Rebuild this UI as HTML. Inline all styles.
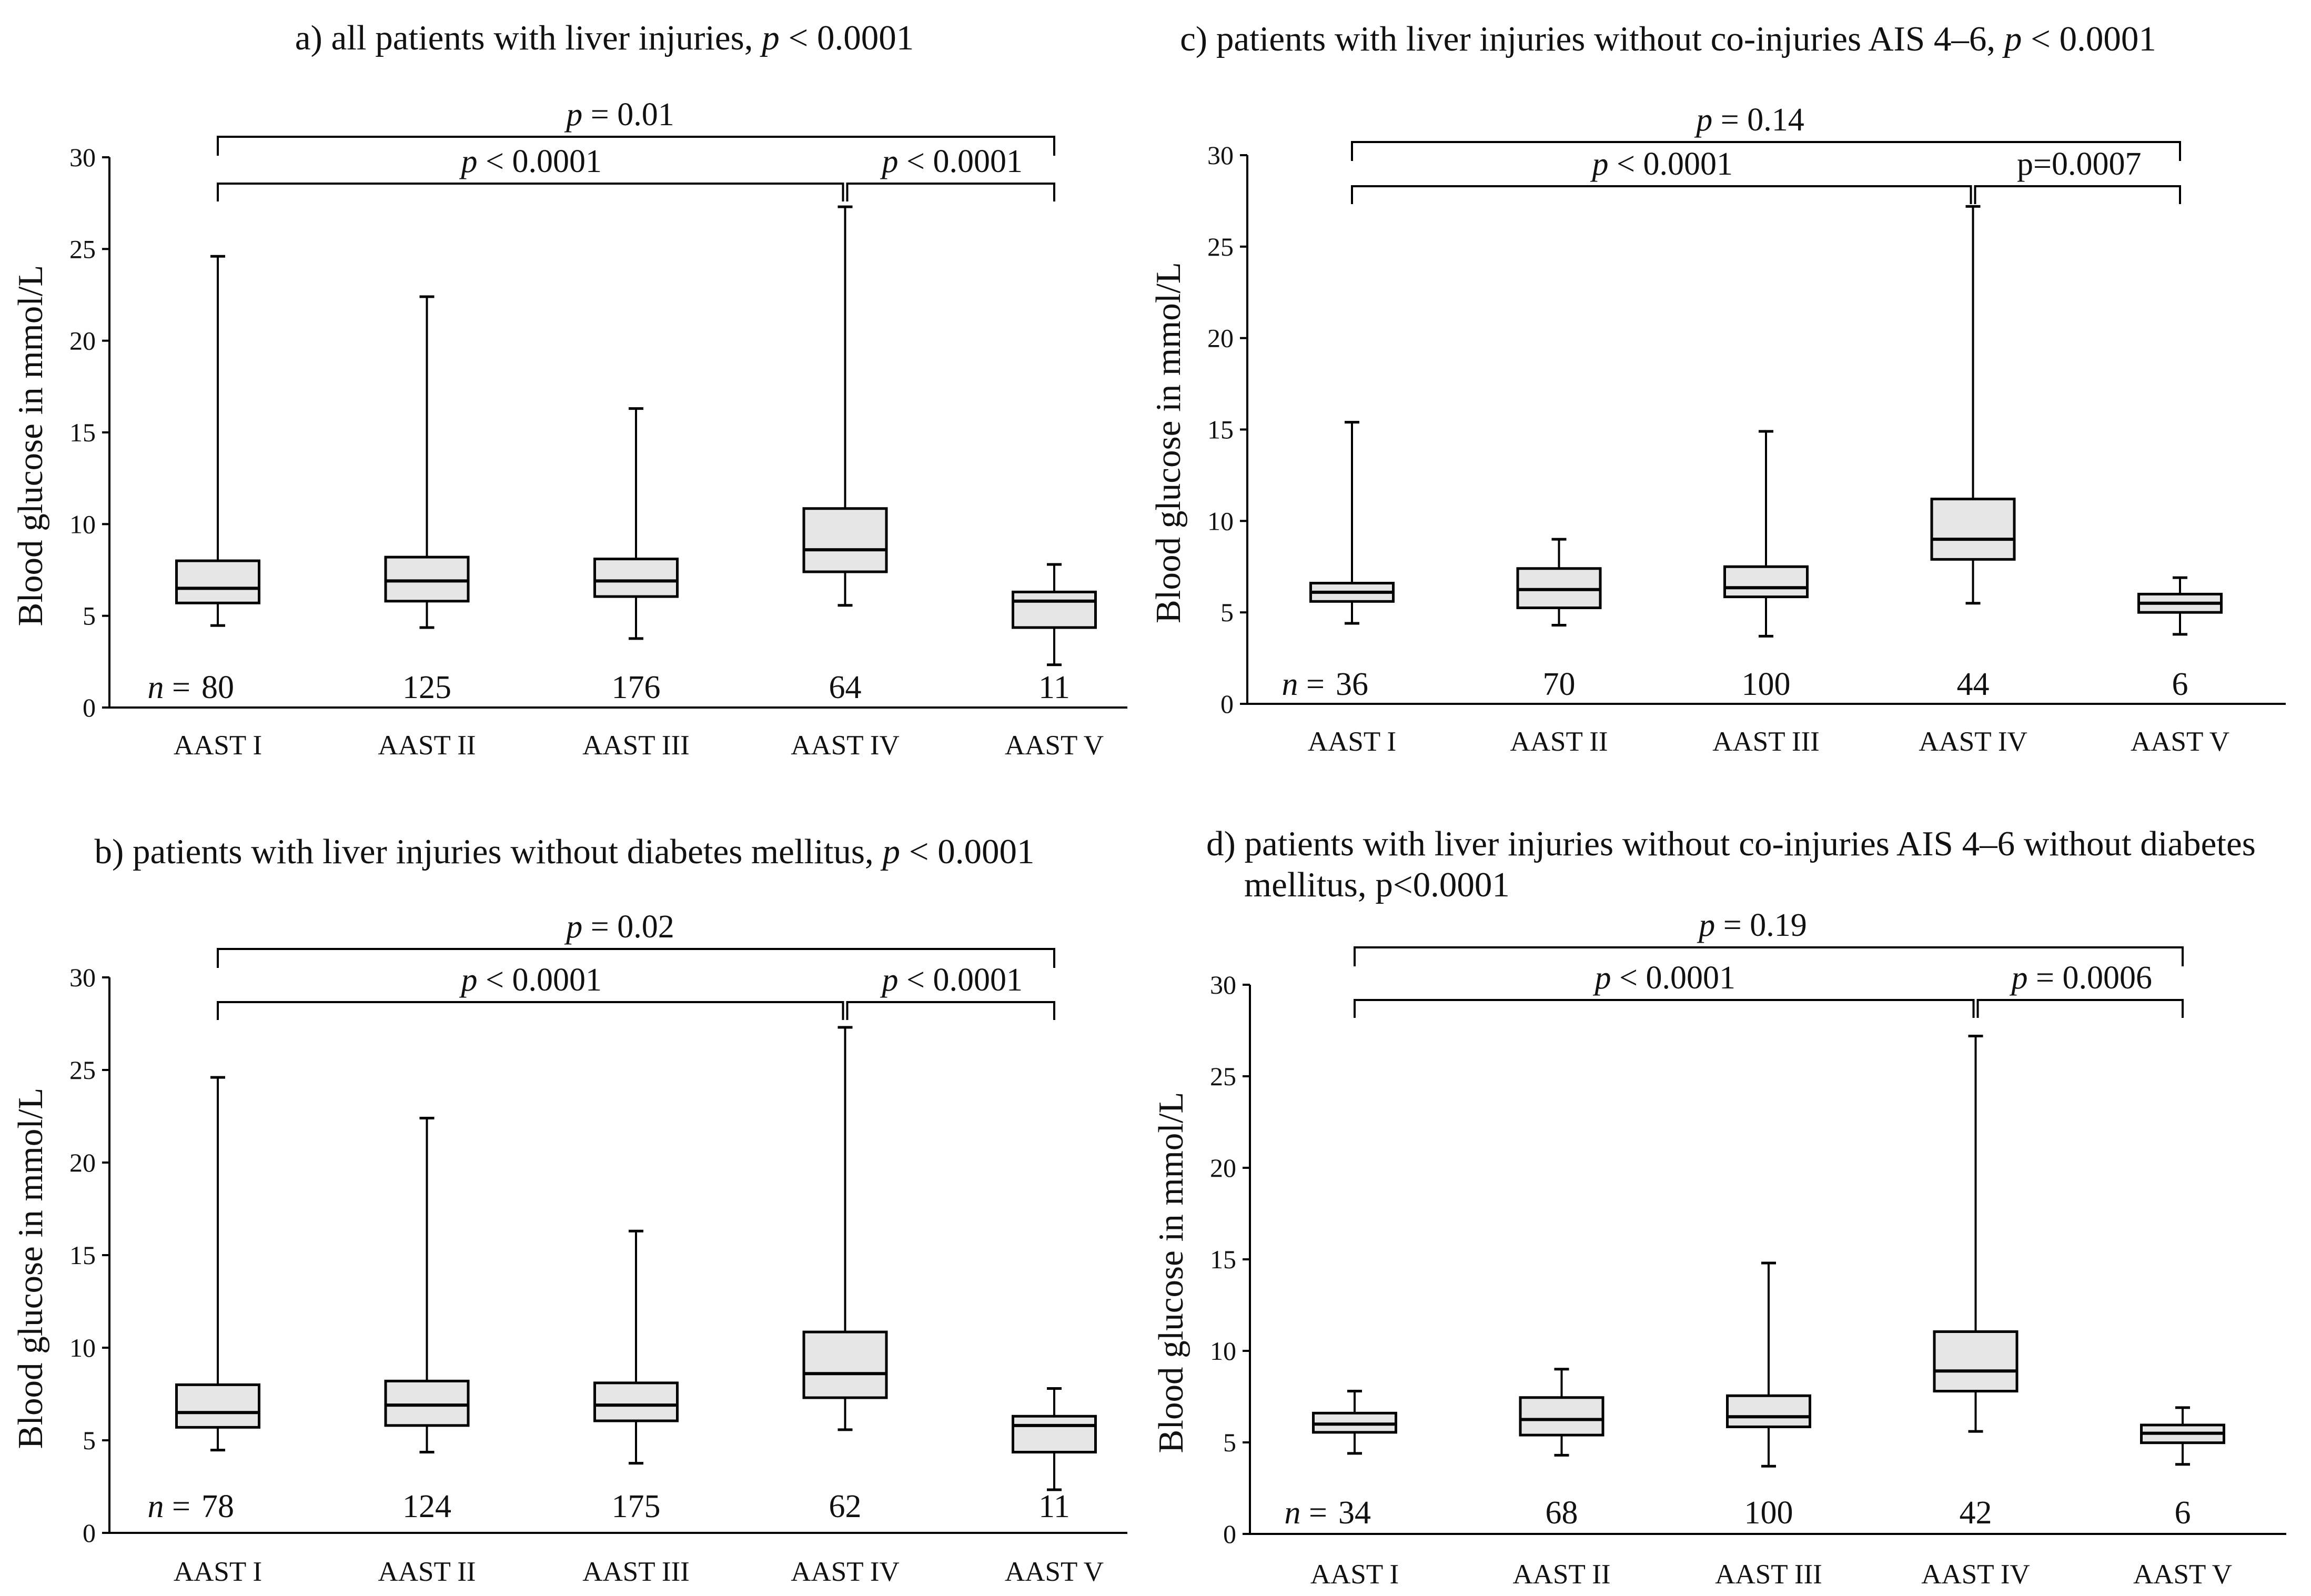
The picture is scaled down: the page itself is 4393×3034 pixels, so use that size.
<!DOCTYPE html>
<html><head><meta charset="utf-8"><style>
html,body{margin:0;padding:0;background:#fff}
svg{display:block}
text{font-family:"Liberation Serif",serif;fill:#111}
</style></head><body>
<svg id="chart" width="4393" height="3034" viewBox="0 0 4393 3034" xmlns="http://www.w3.org/2000/svg"></svg>
<script>
const categories = ["AAST I","AAST II","AAST III","AAST IV","AAST V"];
const yTicks = [0,5,10,15,20,25,30];
// panel a
const aMax = [24.6,22.4,16.3,27.3,7.8];
const aQ3  = [8.0,8.2,8.1,10.85,6.3];
const aMed = [6.5,6.9,6.9,8.6,5.8];
const aQ1  = [5.7,5.8,6.05,7.4,4.36];
const aMin = [4.47,4.36,3.76,5.57,2.33];
const aN   = ["80","125","176","64","11"];
// panel b
const bMax = [24.6,22.4,16.3,27.3,7.8];
const bQ3  = [8.0,8.2,8.1,10.85,6.3];
const bMed = [6.5,6.9,6.9,8.6,5.8];
const bQ1  = [5.7,5.8,6.05,7.3,4.36];
const bMin = [4.47,4.36,3.76,5.57,2.33];
const bN   = ["78","124","175","62","11"];
// panel c
const cMax = [15.4,9.0,14.9,27.2,6.9];
const cQ3  = [6.6,7.4,7.5,11.2,6.0];
const cMed = [6.1,6.25,6.35,9.0,5.5];
const cQ1  = [5.6,5.25,5.85,7.9,5.0];
const cMin = [4.4,4.3,3.7,5.5,3.8];
const cN   = ["36","70","100","44","6"];
// panel d
const dMax = [7.8,9.0,14.8,27.2,6.9];
const dQ3  = [6.6,7.45,7.55,11.05,5.95];
const dMed = [6.0,6.25,6.4,8.9,5.5];
const dQ1  = [5.55,5.4,5.85,7.8,4.98];
const dMin = [4.4,4.3,3.7,5.6,3.8];
const dN   = ["34","68","100","42","6"];

const NS="http://www.w3.org/2000/svg";
const svg=document.getElementById('chart');
function mk(tag,attrs,parent,txt){const e=document.createElementNS(NS,tag);for(const k in attrs)e.setAttribute(k,attrs[k]);if(txt!==undefined)e.textContent=txt;(parent||svg).appendChild(e);return e;}

function panel(cfg){
  const g=mk('g',{});
  
  
  const y=v=>cfg.y0+(cfg.y30-cfg.y0)*v/30;
  const x=i=>cfg.cx0+cfg.step*i;
  const ax=mk('line',{x1:cfg.ax,y1:cfg.y30,x2:cfg.ax,y2:cfg.y0,stroke:'#000','stroke-width':4},g);
  
  const bx=mk('line',{x1:cfg.ax,y1:cfg.y0,x2:cfg.axEnd,y2:cfg.y0,stroke:'#000','stroke-width':4},g);
  
  yTicks.forEach(t=>{
    mk('line',{x1:cfg.ax-14,y1:y(t),x2:cfg.ax,y2:y(t),stroke:'#000','stroke-width':4},g);
    const tl=mk('text',{x:cfg.ax-26,y:y(t)+17,'text-anchor':'end','font-size':50},g,String(t));
    
  });
  const yt=mk('text',{x:0,y:0,'text-anchor':'middle','font-size':67,transform:`translate(${cfg.ax-128},${(cfg.y0+cfg.y30)/2+25}) rotate(-90)`},g,'Blood glucose in mmol/L');
  
  const bw=157;
  categories.forEach((c,i)=>{
    const cx=x(i);
    const bg=mk('g',{},g);
    
    
    mk('line',{x1:cx,y1:y(cfg.max[i]),x2:cx,y2:y(cfg.q3[i]),stroke:'#000','stroke-width':4},bg);
    mk('line',{x1:cx,y1:y(cfg.q1[i]),x2:cx,y2:y(cfg.min[i]),stroke:'#000','stroke-width':4},bg);
    mk('line',{x1:cx-14,y1:y(cfg.max[i]),x2:cx+14,y2:y(cfg.max[i]),stroke:'#000','stroke-width':5},bg);
    mk('line',{x1:cx-14,y1:y(cfg.min[i]),x2:cx+14,y2:y(cfg.min[i]),stroke:'#000','stroke-width':5},bg);
    mk('rect',{x:cx-bw/2,y:y(cfg.q3[i]),width:bw,height:y(cfg.q1[i])-y(cfg.q3[i]),fill:'#e6e6e6',stroke:'#000','stroke-width':5},bg);
    mk('line',{x1:cx-bw/2,y1:y(cfg.med[i]),x2:cx+bw/2,y2:y(cfg.med[i]),stroke:'#000','stroke-width':6},bg);
    const cl=mk('text',{x:cx,y:cfg.catY+18,'text-anchor':'middle','font-size':53},g,c);
    
    const nl=mk('text',{x:cx,y:cfg.nY+21,'text-anchor':'middle','font-size':62},g,cfg.n[i]);
    
  });
  const ne=mk('text',{x:x(0)-52,y:cfg.nY+21,'text-anchor':'end','font-size':62},g);
  
  mk('tspan',{'font-style':'italic'},ne,'n');mk('tspan',{},ne,' =');
  function bracket(x1,x2,ly,ey,label,italic,tx,name){
    const bg=mk('g',{},g);
    
    mk('path',{d:`M${x1},${ey} L${x1},${ly} L${x2},${ly} L${x2},${ey}`,fill:'none',stroke:'#000','stroke-width':4},bg);
    const t=mk('text',{x:tx,y:ly-22,'text-anchor':'middle','font-size':62},bg);
    if(italic){mk('tspan',{'font-style':'italic'},t,'p');mk('tspan',{},t,label);}else t.textContent=label;
  }
  bracket(x(0),x(4),cfg.b1,cfg.b1+36,cfg.l1,true,(x(0)+x(4))/2-30,'bracket-outer');
  bracket(x(0),x(3)-4,cfg.b2,cfg.b2+34,cfg.l2,true,(x(0)+x(3))/2,'bracket-left');
  bracket(x(3)+4,x(4),cfg.b2,cfg.b2+34,cfg.l3,cfg.l3it,(x(3)+x(4))/2+5,'bracket-right');
  const tt=mk('text',{x:cfg.tx,y:cfg.ty,'text-anchor':cfg.tanchor,'font-size':67},svg);
  
  cfg.title(tt);
}

panel({id:'a',ax:208,axEnd:2143,y0:1345,y30:299,cx0:414,step:397.5,catY:1416,nY:1306,
  max:aMax,q3:aQ3,med:aMed,q1:aQ1,min:aMin,n:aN,b1:260,b2:349,
  l1:' = 0.01',l2:' < 0.0001',l3:' < 0.0001',l3it:true,tx:1149,ty:94,tanchor:'middle',
  title:t=>{mk('tspan',{},t,'a) all patients with liver injuries, ');mk('tspan',{'font-style':'italic'},t,'p');mk('tspan',{},t,' < 0.0001');}});
panel({id:'b',ax:208,axEnd:2143,y0:2914,y30:1858,cx0:414,step:397.5,catY:2987,nY:2863,
  max:bMax,q3:bQ3,med:bMed,q1:bQ1,min:bMin,n:bN,b1:1804,b2:1905,
  l1:' = 0.02',l2:' < 0.0001',l3:' < 0.0001',l3it:true,tx:1073,ty:1641,tanchor:'middle',
  title:t=>{mk('tspan',{},t,'b) patients with liver injuries without diabetes mellitus, ');mk('tspan',{'font-style':'italic'},t,'p');mk('tspan',{},t,' < 0.0001');}});
panel({id:'c',ax:2371,axEnd:4345,y0:1338,y30:295,cx0:2570,step:393.5,catY:1409,nY:1300,
  max:cMax,q3:cQ3,med:cMed,q1:cQ1,min:cMin,n:cN,b1:270,b2:354,
  l1:' = 0.14',l2:' < 0.0001',l3:'p=0.0007',l3it:false,tx:3171,ty:96,tanchor:'middle',
  title:t=>{mk('tspan',{},t,'c) patients with liver injuries without co-injuries AIS 4–6, ');mk('tspan',{'font-style':'italic'},t,'p');mk('tspan',{},t,' < 0.0001');}});
panel({id:'d',ax:2376,axEnd:4346,y0:2916,y30:1872,cx0:2575,step:393.5,catY:2992,nY:2875,
  max:dMax,q3:dQ3,med:dMed,q1:dQ1,min:dMin,n:dN,b1:1801,b2:1901,
  l1:' = 0.19',l2:' < 0.0001',l3:' = 0.0006',l3it:true,tx:2293,ty:1626,tanchor:'start',
  title:t=>{mk('tspan',{},t,'d) patients with liver injuries without co-injuries AIS 4–6 without diabetes');mk('tspan',{x:2365,dy:78},t,'mellitus,  p<0.0001');}});
</script>
</body></html>
